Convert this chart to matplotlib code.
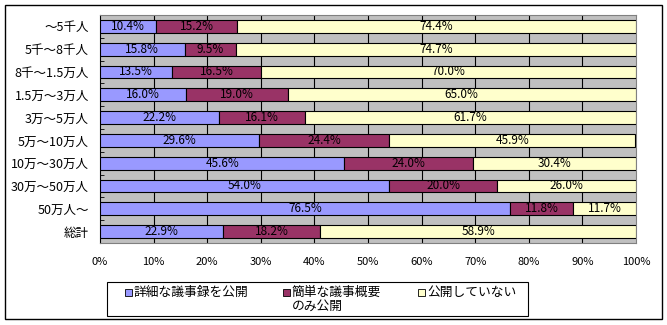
import matplotlib.pyplot as plt
import numpy as np
from matplotlib.patches import Rectangle

plt.rcParams['font.family'] = ['Noto Sans CJK JP', 'DejaVu Sans']

# データ
categories = ['～5千人', '5千～8千人', '8千～1.5万人', '1.5万～3万人', '3万～5万人',
              '5万～10万人', '10万～30万人', '30万～50万人', '50万人～', '総計']
detailed = [10.4, 15.8, 13.5, 16.0, 22.2, 29.6, 45.6, 54.0, 76.5, 22.9]
summary = [15.2, 9.5, 16.5, 19.0, 16.1, 24.4, 24.0, 20.0, 11.8, 18.2]
private = [74.4, 74.7, 70.0, 65.0, 61.7, 45.9, 30.4, 26.0, 11.7, 58.9]
series_labels = ['詳細な議事録を公開', '簡単な議事概要\nのみ公開', '公開していない']
COLORS = ['#9999FF', '#993366', '#FFFFCC']

W, H = 667, 325
fig = plt.figure(figsize=(W / 100, H / 100), dpi=100)
fig.patch.set_facecolor('white')


def px_rect(x0, y0, x1, y1, **kw):
    # ピクセル座標(左上原点)で矩形を描く
    fig.add_artist(Rectangle((x0 / W, 1 - y1 / H), (x1 - x0) / W, (y1 - y0) / H,
                             transform=fig.transFigure, **kw))


# 外枠
px_rect(5, 5, 662, 319, fill=False, edgecolor='black', linewidth=1.0)

ax = fig.add_axes([100 / W, 1 - 243 / H, 536 / W, 228 / H])
ax.set_facecolor('#C0C0C0')

y = np.arange(len(categories))
left = np.zeros(len(categories))
for vals, color in zip([detailed, summary, private], COLORS):
    vals = np.array(vals)
    ax.barh(y, vals, left=left, height=0.56, color=color, edgecolor='black',
            linewidth=0.8, zorder=3)
    for yi, l, v in zip(y, left, vals):
        ax.text(l + v / 2, yi, f'{v:.1f}%', ha='center', va='center',
                fontsize=8.5, color='black', zorder=4)
    left = left + vals

ax.set_xlim(0, 100)
ax.set_ylim(len(categories) - 0.5, -0.5)
ax.set_xticks(np.arange(0, 101, 10))
ax.set_xticklabels([f'{t}%' for t in range(0, 101, 10)], fontsize=8)
ax.tick_params(axis='x', length=0, pad=10)
ax.set_yticks(y)
ax.set_yticklabels(categories, fontsize=9)
ax.tick_params(axis='y', length=0, pad=8)
ax.set_yticks(np.arange(-0.5, len(categories), 1), minor=True)
ax.tick_params(axis='y', which='minor', direction='in', length=3, color='black')

for x in range(10, 100, 10):
    ax.axvline(x, color='black', linewidth=0.8, zorder=1)

for side in ['top', 'right', 'bottom']:
    ax.spines[side].set_color('#808080')
ax.spines['left'].set_color('black')

# 凡例 (Excel風: 各項目の1行目を揃える)
px_rect(107, 282, 528, 316, fill=False, edgecolor='black', linewidth=0.8)
legend_x = [125, 283, 418]
for lx, label, color in zip(legend_x, series_labels, COLORS):
    px_rect(lx, 288.5, lx + 7, 295.5, facecolor=color, edgecolor='black', linewidth=0.6)
    fig.text((lx + 9) / W, 1 - 285.5 / H, label, ha='left', va='top', fontsize=9.2,
             linespacing=1.15)

plt.savefig('out.png', dpi=100, facecolor='white')
